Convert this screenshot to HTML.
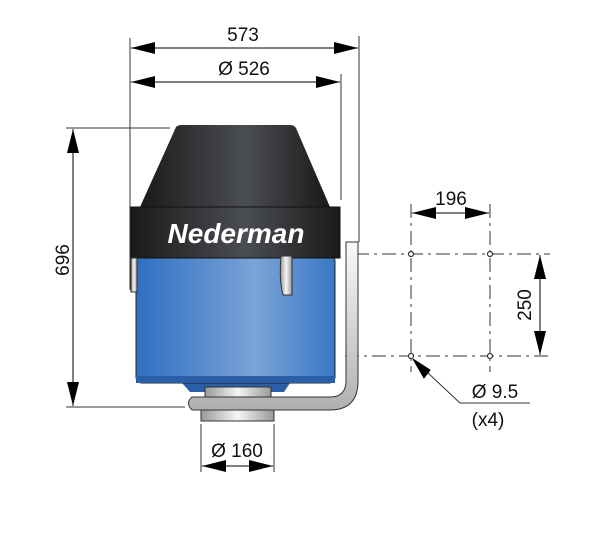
<!DOCTYPE html><html><head><style>body{margin:0;background:#fff}</style></head><body>
<svg width="600" height="530" viewBox="0 0 600 530" xmlns="http://www.w3.org/2000/svg" font-family="Liberation Sans, sans-serif">
<defs>
<linearGradient id="dk" x1="0" x2="1"><stop offset="0" stop-color="#1a1a1a"/><stop offset=".55" stop-color="#4a4d52"/><stop offset="1" stop-color="#1a1a1a"/></linearGradient>
<linearGradient id="bl" x1="0" x2="1"><stop offset="0" stop-color="#2f6fc0"/><stop offset=".6" stop-color="#7aa3d8"/><stop offset="1" stop-color="#3a78c4"/></linearGradient>
<linearGradient id="sv" x1="0" y1="0" x2="0" y2="1"><stop offset="0" stop-color="#fafafa"/><stop offset="1" stop-color="#b0b0b0"/></linearGradient>
<linearGradient id="svh" x1="0" x2="1"><stop offset="0" stop-color="#999"/><stop offset=".5" stop-color="#f5f5f5"/><stop offset="1" stop-color="#999"/></linearGradient>
<marker id="a" viewBox="0 0 12 6" refX="12" refY="3" markerWidth="24" markerHeight="12" markerUnits="userSpaceOnUse" orient="auto-start-reverse"><path d="M0,0L12,3L0,6z" fill="#000"/></marker>
</defs>
<g stroke="#333" stroke-width="1" fill="none">
<line x1="130" y1="38" x2="130" y2="290"/><line x1="359" y1="36" x2="359" y2="242"/><line x1="341" y1="74" x2="341" y2="200"/>
<line x1="66" y1="128" x2="170" y2="128"/><line x1="66" y1="407" x2="185" y2="407"/>
<line x1="201" y1="424" x2="201" y2="472"/><line x1="274" y1="424" x2="274" y2="472"/>
<line x1="355" y1="254" x2="550" y2="254" stroke-dasharray="14,5,3,5"/>
<line x1="345" y1="356" x2="550" y2="356" stroke-dasharray="14,5,3,5"/>
<line x1="411" y1="204" x2="411" y2="372" stroke-dasharray="14,5,3,5"/>
<line x1="490" y1="204" x2="490" y2="372" stroke-dasharray="14,5,3,5"/>
<polyline points="460,403 530,403"/><line x1="460" y1="403" x2="428" y2="373"/>
</g>
<g stroke="#000" stroke-width="1">
<line x1="131" y1="48" x2="358" y2="48" marker-start="url(#a)" marker-end="url(#a)"/>
<line x1="131" y1="82" x2="340" y2="82" marker-start="url(#a)" marker-end="url(#a)"/>
<line x1="73" y1="129" x2="73" y2="406" marker-start="url(#a)" marker-end="url(#a)"/>
<line x1="202" y1="466" x2="273" y2="466" marker-start="url(#a)" marker-end="url(#a)"/>
<line x1="412" y1="213" x2="489" y2="213" marker-start="url(#a)" marker-end="url(#a)"/>
<line x1="540" y1="255" x2="540" y2="355" marker-start="url(#a)" marker-end="url(#a)"/>
<path d="M413,359L430,370L424,378z" fill="#000"/>
</g>
<g fill="#fff" stroke="#333" stroke-width="1.2">
<circle cx="411" cy="254" r="2.5"/><circle cx="490" cy="254" r="2.5"/><circle cx="411" cy="356" r="2.5"/><circle cx="490" cy="356" r="2.5"/>
</g>
<g font-size="19" fill="#111" text-anchor="middle">
<text x="243" y="41">573</text><text x="244" y="75">Ø 526</text>
<text x="237" y="457">Ø 160</text><text x="451" y="205">196</text>
<text x="495" y="398">Ø 9.5</text><text x="488" y="426">(x4)</text>
<text transform="translate(69,260) rotate(-90)">696</text>
<text transform="translate(531,305) rotate(-90)">250</text>
</g>
<path d="M182,383 L290,383 L284,392 L190,392z" fill="#2a5fa8"/>
<rect x="205" y="387" width="66" height="10" fill="url(#svh)" stroke="#333"/>
<rect x="201" y="409" width="73" height="12" fill="url(#svh)" stroke="#333"/>
<path d="M192,397 L330,397 Q346,397 346,381 L346,242 L358,242 L358,381 Q358,410 330,410 L192,410 Q185,403 192,397z" fill="url(#sv)" stroke="#333"/>
<rect x="136" y="255" width="199" height="128" rx="6" fill="url(#bl)" stroke="#222"/>
<rect x="136" y="376" width="199" height="7" fill="#2a5fa8"/>
<path d="M176,127 Q178,125 182,125 L290,125 Q294,125 296,128 L330,207 L140,207z" fill="url(#dk)"/>
<rect x="131" y="207" width="209" height="51" fill="url(#dk)" stroke="#111"/>
<text x="236" y="243" font-size="28" font-weight="bold" font-style="italic" fill="#fff" text-anchor="middle">Nederman</text>
<path d="M131,258 L137,258 L137,292 L131,292z" fill="url(#svh)" stroke="#333"/>
<path d="M281,256 L292,256 L292,295 L283,295 Q279,280 281,256z" fill="url(#svh)" stroke="#333"/>
</svg>
</body></html>
